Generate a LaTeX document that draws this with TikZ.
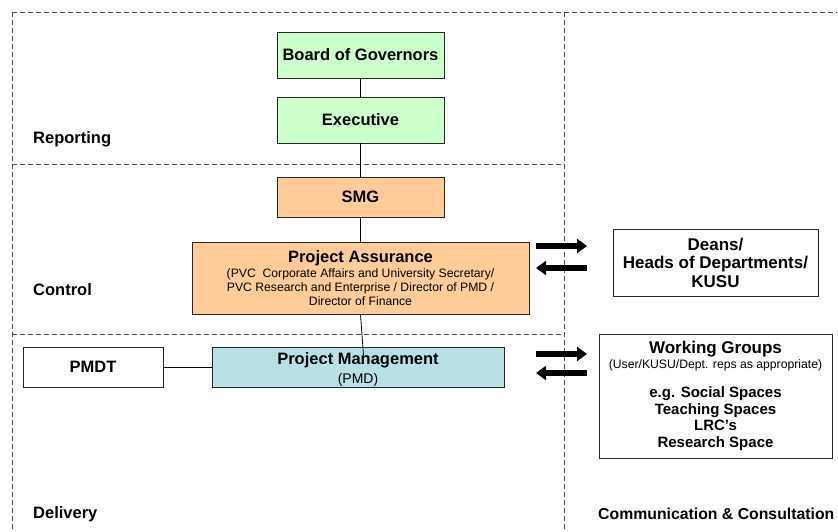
\documentclass[tikz,border=0pt]{standalone}
\usepackage{fontspec}
\setmainfont{Liberation Sans}
\usetikzlibrary{arrows.meta}

\definecolor{govgreen}{HTML}{CCFFCC}
\definecolor{ctrlorange}{HTML}{FFCC99}
\definecolor{pmblue}{HTML}{B9E0E4}
\definecolor{framegray}{HTML}{505050}

\newcommand\hdfont{\fontsize{16.5}{19}\selectfont\bfseries}
\newcommand\smfont{\fontsize{12.2}{14}\selectfont}

\tikzset{
  orgbox/.style={draw=black!85, line width=0.9pt, inner sep=0pt, align=center,
    font=\hdfont},
  section/.style={draw=framegray, line width=0.8pt, dash pattern=on 5pt off 3pt},
  link/.style={draw=black, line width=0.8pt},
  flow/.style={line width=6pt, -{Triangle[length=10pt,width=14pt]}},
  zonelabel/.style={anchor=west, inner sep=0pt, font=\hdfont}
}

\begin{document}
\begin{tikzpicture}[x=1pt, y=-1pt]
\useasboundingbox (0,0) rectangle (838,531);

% section frame
\draw[section] (12,12) -- (837,12);
\draw[section] (12,12) -- (12,531);
\draw[section] (564,12) -- (564,531);
\draw[section] (12,164) -- (564,164);
\draw[section] (12,334) -- (564,334);

% zone labels
\node[zonelabel] (lrep) at (33,139) {Reporting};
\node[zonelabel] (lctl) at (33,290) {Control};
\node[zonelabel] (ldel) at (33,514) {Delivery};
\node[zonelabel, font=\fontsize{15.8}{18}\selectfont\bfseries] (lcom) at (598,514) {Communication \& Consultation};

% governance chain
\node[orgbox, fill=govgreen, minimum width=167pt, minimum height=46pt] (bog) at (360.5,55) {Board of Governors};
\node[orgbox, fill=govgreen, minimum width=167pt, minimum height=46pt] (exec) at (360.5,120) {Executive};
\node[orgbox, fill=ctrlorange, minimum width=167pt, minimum height=40pt] (smg) at (360.5,197) {SMG};
\node[orgbox, fill=ctrlorange, minimum width=337pt, minimum height=72pt, font=\smfont] (pa) at (360.5,278)
  {{\hdfont Project Assurance}\\[1pt]
   (PVC\ \ Corporate Affairs and University Secretary/\\
   PVC Research and Enterprise / Director of PMD /\\
   Director of Finance};
\node[orgbox, fill=pmblue, minimum width=292pt, minimum height=40pt, font=\fontsize{14}{15}\selectfont] (pm) at (358,367)
  {{\hdfont\rule{0pt}{17pt}Project Management}\\[3.5pt](PMD)};
\node[orgbox, fill=white, minimum width=140pt, minimum height=40pt] (pmdt) at (93,367) {PMDT};

% consultation groups
\node[orgbox, fill=white, minimum width=205pt, minimum height=67pt, font=\fontsize{17}{18.5}\selectfont\bfseries] (deans) at (715.5,262.5)
  {Deans/\\Heads of Departments/\\KUSU};
\node[orgbox, fill=white, minimum width=233pt, minimum height=124pt, font=\fontsize{15}{16.5}\selectfont\bfseries] (wg) at (715.5,396)
  {{\fontsize{17}{19}\selectfont Working Groups}\\[-2pt]
   {\smfont\mdseries (User/KUSU/Dept. reps as appropriate)}\\[13pt]
   e.g. Social Spaces\\Teaching Spaces\\LRC’s\\Research Space};

% reporting lines
\draw[link] (bog.south) -- (exec.north);
\draw[link] (exec.south) -- (smg.north);
\draw[link] (smg.south) -- (pa.north);
\draw[link] (pa.south) -- ([shift={(5.5,9)}]pm.north);
\draw[link] (pmdt.east) -- (pm.west);

% communication flows
\coordinate (aout) at (536,246);
\coordinate (aoutend) at (587,246);
\coordinate (ain) at (587,268);
\coordinate (ainend) at (536,268);
\coordinate (bout) at (536,354);
\coordinate (boutend) at (587,354);
\coordinate (bin) at (587,373);
\coordinate (binend) at (536,373);
\draw[flow] (aout) -- (aoutend);
\draw[flow] (ain) -- (ainend);
\draw[flow] (bout) -- (boutend);
\draw[flow] (bin) -- (binend);
\end{tikzpicture}
\end{document}
